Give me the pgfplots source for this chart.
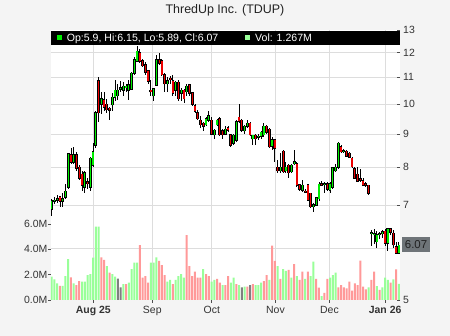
\documentclass[border=0pt]{standalone}
\usepackage{pgfplots}
\pgfplotsset{compat=1.18}
\usepackage{pgfplotstable}
\usepackage{fontspec}
\setmainfont{Liberation Sans}
\definecolor{bgcol}{HTML}{F4F4F4}
\definecolor{gridcol}{HTML}{DDDDDD}
\definecolor{labcol}{HTML}{333333}
\definecolor{titlecol}{HTML}{222222}
\definecolor{upcol}{HTML}{00EE00}
\definecolor{downcol}{HTML}{EE0000}
\definecolor{volgreen}{HTML}{99FF99}
\definecolor{volpink}{HTML}{FF9999}
\definecolor{volgray}{HTML}{7F7F7F}
\definecolor{lastcol}{HTML}{6E7478}

\pgfplotstableread{
i o h l c
0 6.90 7.15 6.72 7.10
1 7.10 7.20 7.02 7.12
2 7.12 7.25 7.05 7.15
3 7.20 7.22 6.95 7.10
4 7.10 7.30 6.95 7.15
5 7.20 7.55 7.15 7.35
6 7.45 8.40 7.40 8.38
7 8.35 8.55 8.10 8.15
8 8.15 8.60 8.10 8.35
9 8.35 8.45 7.90 7.97
10 8.00 8.05 7.65 7.70
11 7.80 7.90 7.35 7.50
12 7.45 7.90 7.30 7.85
13 7.60 7.70 7.40 7.55
14 7.45 8.30 7.35 8.25
15 8.05 8.70 8.00 8.45
16 8.65 9.75 8.55 9.70
17 10.85 11.00 9.40 9.70
18 10.00 10.45 9.65 10.20
19 10.15 10.45 9.75 9.90
20 10.00 10.20 9.70 9.80
21 9.85 9.90 9.45 9.78
22 9.98 10.40 9.75 10.25
23 10.25 10.90 10.10 10.50
24 10.30 10.75 10.15 10.50
25 10.55 10.85 10.45 10.60
26 10.50 10.80 10.30 10.65
27 10.60 10.75 10.45 10.65
28 10.50 10.90 10.15 10.70
29 10.55 11.20 10.50 11.15
30 11.15 11.80 11.10 11.70
31 11.65 12.28 11.60 12.05
32 12.00 12.15 11.55 11.65
33 11.65 11.75 11.40 11.45
34 11.50 11.60 11.10 11.20
35 11.25 11.30 10.75 10.85
36 10.50 10.90 10.30 10.45
37 10.30 10.60 10.10 10.55
38 10.70 11.90 10.65 11.70
39 11.70 12.00 11.50 11.55
40 11.65 11.75 11.05 11.10
41 11.10 11.15 10.45 10.75
42 10.75 11.00 10.45 10.85
43 10.95 11.05 10.75 10.90
44 10.85 11.10 10.30 10.40
45 10.50 10.85 10.30 10.80
46 10.80 10.90 10.10 10.20
47 10.40 10.60 10.10 10.50
48 10.50 10.55 10.05 10.20
49 10.45 10.75 10.30 10.65
50 10.70 10.75 10.30 10.40
51 10.40 10.45 9.95 10.00
52 9.95 10.00 9.70 9.75
53 9.70 9.78 9.45 9.50
54 9.45 9.60 9.20 9.30
55 9.35 9.40 9.10 9.25
56 9.30 9.55 9.25 9.50
57 9.45 9.75 9.40 9.60
58 9.45 9.55 8.95 9.00
59 8.97 9.15 8.85 9.12
60 9.30 9.50 9.25 9.45
61 9.50 9.55 8.95 8.97
62 9.10 9.15 8.85 8.97
63 9.00 9.25 8.95 9.15
64 9.20 9.25 9.05 9.12
65 8.97 9.00 8.60 8.65
66 8.70 9.00 8.65 8.95
67 8.80 9.45 8.75 9.40
68 9.55 10.00 9.35 9.42
69 9.45 9.50 9.05 9.12
70 9.10 9.30 9.00 9.25
71 9.25 9.45 9.20 9.35
72 9.35 9.40 8.95 8.97
73 8.85 8.97 8.65 8.95
74 8.95 9.00 8.65 8.85
75 8.90 9.00 8.80 8.92
76 8.93 9.10 8.85 9.05
77 8.97 9.35 8.90 9.25
78 9.25 9.30 9.00 9.05
79 9.15 9.20 8.55 8.60
80 8.61 8.90 8.50 8.81
81 8.81 8.85 8.15 8.55
82 8.00 8.20 7.85 7.90
83 7.90 8.40 7.85 8.00
84 8.46 8.50 7.85 7.88
85 7.90 8.15 7.85 8.00
86 8.05 8.10 7.70 7.85
87 7.88 8.10 7.85 8.05
88 8.10 8.50 8.05 8.15
89 8.10 8.15 7.45 7.50
90 7.52 7.55 7.35 7.40
91 7.38 7.65 7.33 7.50
92 7.35 7.40 7.30 7.33
93 7.52 7.55 7.10 7.12
94 7.29 7.30 6.95 6.96
95 6.96 7.05 6.82 7.00
96 7.00 7.20 6.98 7.18
97 7.16 7.60 7.10 7.53
98 7.55 7.62 7.48 7.50
99 7.52 7.60 7.30 7.55
100 7.55 7.60 7.35 7.40
101 7.37 7.60 7.30 7.55
102 7.45 8.00 7.40 7.98
103 7.90 8.10 7.88 8.00
104 8.00 8.75 7.95 8.70
105 8.60 8.65 8.40 8.45
106 8.46 8.52 8.40 8.48
107 8.46 8.50 8.30 8.32
108 8.40 8.45 8.25 8.28
109 8.25 8.30 8.00 8.01
110 7.95 8.00 7.68 7.70
111 7.80 8.00 7.60 7.62
112 7.68 7.95 7.60 7.64
113 7.62 7.70 7.48 7.50
114 7.55 7.60 7.45 7.50
115 7.50 7.52 7.25 7.29
116 6.33 6.40 6.05 6.34
117 6.30 6.42 6.10 6.32
118 6.15 6.38 6.02 6.30
119 6.30 6.35 6.20 6.32
120 6.32 6.40 6.22 6.37
121 6.38 6.42 6.05 6.11
122 6.11 6.46 5.95 6.43
123 6.43 6.45 6.30 6.35
124 6.33 6.40 6.00 6.08
125 6.04 6.15 5.88 5.90
126 5.90 6.15 5.89 6.07
}\candles

\pgfplotstableread{
i v
0 1.84
1 1.63
2 1.32
4 1.11
5 1.89
6 3.23
8 1.32
11 1.45
12 1.45
13 1.97
14 2.05
15 3.34
16 5.79
17 5.79
20 2.68
22 2.05
23 1.84
26 1.26
28 1.37
29 2.44
30 2.95
31 2.95
36 2.95
37 2.95
38 3.37
42 1.45
43 1.58
45 1.58
46 1.89
47 2.05
48 1.76
55 2.44
58 1.45
59 1.58
62 1.18
65 1.37
66 1.76
68 1.18
70 1.05
74 1.18
75 1.18
76 1.37
79 1.58
82 2.68
84 2.44
85 2.29
87 1.76
89 1.89
92 1.66
94 1.89
95 3.03
98 0.31
101 1.76
102 1.97
103 2.16
115 1.00
118 1.10
120 1.00
121 1.76
122 1.58
124 1.63
126 1.267
}\volG

\pgfplotstableread{
i v
3 1.11
7 1.79
9 1.18
10 1.50
18 3.37
19 3.16
21 2.16
27 1.26
32 4.34
33 1.76
34 1.89
35 1.37
39 3.08
40 2.76
41 1.97
44 1.26
49 5.13
50 2.68
51 1.89
52 2.24
53 1.76
54 1.76
56 2.05
57 1.89
60 1.66
61 1.37
63 1.18
64 1.89
67 1.26
71 1.05
73 1.26
77 1.50
78 1.97
80 4.29
81 3.08
83 1.66
86 2.37
88 2.84
90 1.58
91 2.24
93 2.24
96 1.66
97 0.97
99 0.57
100 1.66
104 1.00
105 1.18
106 1.00
107 0.92
108 1.45
109 0.74
110 1.32
111 1.18
112 3.10
113 1.05
114 0.84
116 1.58
117 2.24
119 0.79
123 1.37
125 2.42
}\volP

\pgfplotstableread{
i v
24 1.68
25 1.00
69 1.00
72 1.18
}\volY

\begin{document}
\begin{tikzpicture}
\fill[bgcol] (-51bp,-36bp) rectangle (399bp,300bp);
% volume axis (behind)
\begin{axis}[
  at={(0,0)}, anchor=south west, scale only axis,
  width=349bp, height=270bp,
  xmin=-0.25, xmax=126.4, ymin=0, ymax=21.32,
  axis x line*=bottom, axis y line*=left, axis line style={draw=none},
  axis background/.style={fill=white},
  tick align=outside, major tick length=2.5bp,
  tick style={color=black!70, line width=0.6bp},
  xtick={15.1,36.5,58.1,81.2,100.8,121.0},
  xticklabels={\textbf{Aug 25},Sep,Oct,Nov,Dec,\textbf{Jan 26}},
  xmajorgrids, major grid style={color=gridcol, line width=0.8bp},
  ytick={0,2,4,6}, yticklabels={0.0M,2.0M,4.0M,6.0M},
  extra y ticks={4.068,7.508,10.487,13.115,15.466,17.593,19.534},
  extra y tick labels={},
  extra y tick style={grid=major, major tick length=0pt},
  minor tick num=0,
  ticklabel style={font=\fontsize{10.5}{12}\selectfont, text=labcol},
  yticklabel style={inner sep=1bp},
]
\addplot[ybar, bar width=2bp, bar shift=0pt, fill=volgreen, draw=none] table[x=i,y=v]{\volG};
\addplot[ybar, bar width=2bp, bar shift=0pt, fill=volpink, draw=none] table[x=i,y=v]{\volP};
\addplot[ybar, bar width=2bp, bar shift=0pt, fill=volgray, draw=none] table[x=i,y=v]{\volY};
\end{axis}
% price axis (front)
\begin{axis}[
  at={(0,0)}, anchor=south west, scale only axis,
  width=349bp, height=270bp,
  xmin=-0.25, xmax=126.4,
  ymode=log, ymin=5, ymax=13,
  hide x axis, axis y line*=right, axis line style={draw=none},
  ytick={5,7,8,9,10,11,12,13}, yticklabels={5,7,8,9,10,11,12,13},
  yminorticks=false,
  tick align=inside, major tick length=3bp,
  tick style={color=black!70, line width=0.6bp},
  yticklabel style={font=\fontsize{10.5}{12}\selectfont, text=labcol, inner sep=3bp},
]
% wicks
\addplot[draw=none, mark=none, error bars/.cd, y dir=both, y explicit, error mark=none,
  error bar style={draw=black, line width=0.9bp}]
  table[x=i, y=c, y error plus expr=\thisrow{h}-\thisrow{c}, y error minus expr=\thisrow{c}-\thisrow{l}] {\candles};
% up bodies
\addplot[draw=none, mark=none, restrict expr to domain={\thisrow{c}-\thisrow{o}}{0:100},
  error bars/.cd, y dir=plus, y explicit, error mark=none,
  error bar style={draw=black, line width=2.8bp, shorten <=-0.6bp, shorten >=-0.6bp}]
  table[x=i, y=o, y error expr=\thisrow{c}-\thisrow{o}] {\candles};
\addplot[draw=none, mark=none, restrict expr to domain={\thisrow{c}-\thisrow{o}}{0:100},
  error bars/.cd, y dir=plus, y explicit, error mark=none,
  error bar style={draw=upcol, line width=1.3bp}]
  table[x=i, y=o, y error expr=\thisrow{c}-\thisrow{o}] {\candles};
% down bodies
\addplot[draw=none, mark=none, restrict expr to domain={\thisrow{o}-\thisrow{c}}{0.0001:100},
  error bars/.cd, y dir=plus, y explicit, error mark=none,
  error bar style={draw=black, line width=2.8bp, shorten <=-0.6bp, shorten >=-0.6bp}]
  table[x=i, y=c, y error expr=\thisrow{o}-\thisrow{c}] {\candles};
\addplot[draw=none, mark=none, restrict expr to domain={\thisrow{o}-\thisrow{c}}{0.0001:100},
  error bars/.cd, y dir=plus, y explicit, error mark=none,
  error bar style={draw=downcol, line width=1.3bp}]
  table[x=i, y=c, y error expr=\thisrow{o}-\thisrow{c}] {\candles};
\end{axis}
% legend bar
\fill[black] (0,255bp) rectangle (349bp,269bp);
\fill[upcol] (5.7bp,259.7bp) rectangle (11bp,265bp);
\node[anchor=base west, inner sep=0pt, text=white, font=\fontsize{10.6}{12}\selectfont] at (15.7bp,258.3bp) {Op:5.9, Hi:6.15, Lo:5.89, Cl:6.07};
\fill[volgreen] (194bp,259.7bp) rectangle (199.3bp,265bp);
\node[anchor=base west, inner sep=0pt, text=white, font=\fontsize{10.6}{12}\selectfont] at (204bp,258.3bp) {Vol: 1.267M};
% title
\node[anchor=base, inner sep=0pt, text=titlecol, font=\fontsize{12.5}{14}\selectfont] at (174bp,286bp) {ThredUp Inc. (TDUP)};
% last price label
\node[anchor=west, fill=lastcol, inner sep=0pt, minimum width=28.3bp, minimum height=15bp, text=titlecol, font=\fontsize{11.5}{12}\selectfont] at (350.7bp,55bp) {6.07};
\pgfresetboundingbox
\path (-51bp,-36bp) rectangle (399bp,300bp);
\end{tikzpicture}
\end{document}
